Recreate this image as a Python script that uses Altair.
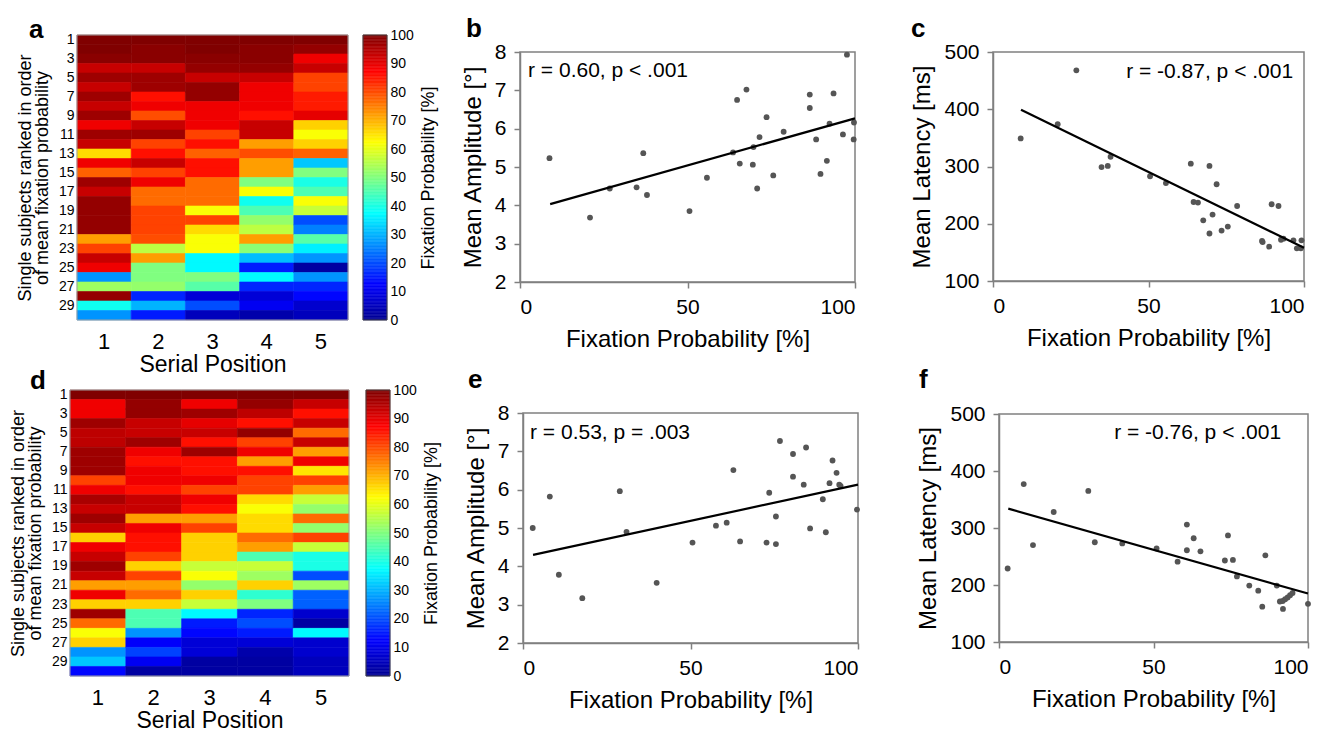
import altair as alt
import numpy as np
import pandas as pd

FONT = "Liberation Sans"

# ---------------- Heatmap a (rows = subjects 1..30, columns = serial position 1..5)
A_SP1 = [100, 100, 99, 93, 97, 93, 97, 93, 97, 89, 97, 93, 66, 89, 78, 97, 93, 98, 98, 98, 98, 72, 81, 93, 89, 27, 53, 98, 39, 27]
A_SP2 = [100, 99, 99, 93, 97, 97, 86, 89, 80, 93, 97, 81, 86, 93, 81, 89, 77, 77, 81, 81, 81, 80, 56, 72, 50, 50, 52, 16, 30, 15]
A_SP3 = [100, 100, 99, 98, 93, 98, 98, 89, 89, 89, 81, 86, 78, 86, 86, 77, 77, 77, 62, 81, 66, 62, 62, 37, 37, 50, 46, 8, 20, 5]
A_SP4 = [100, 99, 99, 98, 93, 89, 89, 89, 86, 93, 93, 72, 80, 72, 72, 50, 62, 39, 45, 52, 56, 72, 51, 31, 15, 37, 16, 8, 11, 3]
A_SP5 = [100, 98, 89, 93, 81, 81, 85, 85, 90, 67, 62, 67, 78, 32, 50, 40, 45, 62, 57, 20, 25, 46, 36, 27, 2, 27, 16, 13, 7, 5]

# ---------------- Heatmap d
D_SP1 = [100, 89, 89, 97, 94, 94, 97, 97, 97, 81, 89, 96, 93, 97, 93, 67, 89, 93, 97, 93, 72, 89, 67, 97, 77, 62, 67, 27, 32, 13]
D_SP2 = [100, 98, 98, 93, 93, 97, 89, 86, 89, 89, 86, 93, 93, 72, 89, 86, 86, 81, 67, 81, 72, 77, 67, 45, 45, 27, 12, 19, 11, 2]
D_SP3 = [100, 89, 97, 90, 93, 86, 97, 86, 86, 89, 81, 89, 86, 72, 81, 67, 67, 67, 57, 62, 52, 67, 57, 37, 15, 13, 8, 8, 2, 2]
D_SP4 = [100, 98, 94, 86, 98, 81, 89, 72, 86, 81, 81, 66, 62, 66, 66, 77, 72, 45, 57, 53, 67, 42, 50, 16, 20, 15, 8, 3, 2, 2]
D_SP5 = [100, 93, 86, 93, 77, 93, 72, 89, 65, 81, 72, 57, 52, 77, 52, 81, 57, 40, 40, 20, 53, 22, 22, 7, 2, 37, 7, 7, 5, 5]

# ---------------- Scatter b (amplitude vs fixation probability)
B_X = [8.8, 20.9, 26.8, 34.8, 36.8, 37.9, 50.6, 55.8, 63.6, 64.8, 65.6, 67.6, 69.5, 69.7, 70.8, 71.5, 73.6, 75.6, 78.7, 86.5, 86.5, 88.4, 89.7, 91.6, 92.4, 93.6, 96.4, 97.6, 99.7, 99.6]
B_Y = [5.23, 3.68, 4.44, 4.47, 5.36, 4.27, 3.85, 4.72, 5.38, 6.75, 5.09, 7.02, 5.06, 5.52, 4.44, 5.78, 6.30, 4.78, 5.92, 6.89, 6.54, 5.72, 4.82, 5.16, 6.13, 6.92, 5.85, 7.93, 6.16, 5.72]
B_FIT_X = [9, 100]
B_FIT_Y = [4.03, 6.27]

# ---------------- Scatter c (latency vs fixation probability)
C_X = [8.9, 20.8, 26.8, 34.9, 36.9, 37.8, 50.5, 55.6, 63.6, 64.5, 65.9, 67.6, 69.6, 69.6, 70.6, 71.9, 73.5, 75.5, 78.5, 86.5, 86.7, 88.8, 89.6, 91.8, 92.6, 93.4, 96.6, 97.7, 99.2, 99.0]
C_Y = [349, 374, 468, 299, 301, 317, 283, 271, 305, 238, 237, 206, 301, 183, 216, 269, 188, 195, 231, 170, 168, 160, 234, 231, 172, 174, 171, 157, 171, 157]
C_FIT_X = [9, 100]
C_FIT_Y = [399, 158]

# ---------------- Scatter e
E_X = [2.9, 8.0, 10.7, 17.7, 28.9, 30.9, 39.9, 50.6, 57.6, 60.8, 62.8, 64.8, 72.7, 73.5, 75.5, 75.5, 76.7, 80.6, 80.6, 83.8, 84.5, 85.7, 89.5, 90.4, 91.5, 92.4, 93.6, 94.4, 94.8, 99.7]
E_Y = [5.00, 5.82, 3.78, 3.17, 5.96, 4.90, 3.57, 4.62, 5.06, 5.14, 6.51, 4.65, 4.62, 5.92, 5.30, 4.58, 7.27, 6.93, 6.34, 6.13, 7.10, 4.99, 5.75, 4.89, 6.17, 6.76, 6.44, 6.13, 6.10, 5.48]
E_FIT_X = [3, 100]
E_FIT_Y = [4.30, 6.13]

# ---------------- Scatter f
F_X = [2.8, 8.0, 11.0, 17.7, 28.9, 31.0, 39.9, 51.0, 57.8, 60.8, 60.8, 63.0, 65.2, 73.1, 74.1, 75.7, 77.0, 81.0, 83.9, 85.2, 86.2, 89.9, 90.9, 91.9, 91.8, 92.6, 93.4, 94.2, 95.0, 100.0]
F_Y = [229, 377, 270, 328, 365, 275, 273, 264, 241, 306, 261, 282, 259, 243, 287, 244, 215, 199, 190, 162, 252, 199, 171, 158, 172, 175, 178, 182, 186, 167]
F_FIT_X = [3, 100]
F_FIT_Y = [334, 185]

SUBJECT_TICKS = list(range(1, 30, 2))
POSITIONS = [1, 2, 3, 4, 5]
CBAR_TICKS = list(range(0, 101, 10))
AMP_TICKS = [2, 3, 4, 5, 6, 7, 8]
LAT_TICKS = [100, 200, 300, 400, 500]
PROB_TICKS = [0, 50, 100]

JET_DOMAIN = [0, 12.5, 37.5, 62.5, 87.5, 100]
JET_RANGE = ["#000090", "#0000ff", "#00ffff", "#ffff00", "#ff0000", "#800000"]


def jet_scale():
    return alt.Scale(domain=JET_DOMAIN, range=JET_RANGE, interpolate="rgb", clamp=True)


def panel_title(label, dx, offset):
    return alt.TitleParams(label, anchor="start", frame="group", dx=dx, offset=offset,
                           baseline="alphabetic", fontSize=26, fontWeight="bold",
                           font=FONT, color="black")


def spacer(px, height):
    # invisible element that only widens the panel's layout bounds
    return alt.Chart(pd.DataFrame({"k": [0]})).mark_rule(strokeOpacity=0, strokeWidth=1).encode(
        x=alt.value(px), y=alt.value(height / 2), y2=alt.value(height / 2 + 1))


def heat_panel(cols, label, width, height, cb_gap, title_dx, title_offset, inset=0):
    recs = []
    for j, col in enumerate(cols):
        for i, v in enumerate(col):
            recs.append({"subject": i + 1, "pos": POSITIONS[j], "prob": v})
    df = pd.DataFrame(recs)
    view_w = width + inset
    heat = alt.Chart(df).mark_rect(strokeWidth=0.6).encode(
        x=alt.X("pos:O", scale=alt.Scale(paddingInner=0, paddingOuter=0, range=[inset, view_w]),
                axis=alt.Axis(title="Serial Position", labelAngle=0, labelFontSize=22,
                              titleFontSize=23, ticks=False, domain=False,
                              labelPadding=11, titlePadding=1, titleFontWeight="normal")),
        y=alt.Y("subject:O", scale=alt.Scale(paddingInner=0, paddingOuter=0),
                axis=alt.Axis(values=SUBJECT_TICKS, offset=-inset,
                              title=["Single subjects ranked in order", "of mean fixation probability"],
                              labelFontSize=14, titleFontSize=18, titleLineHeight=17,
                              ticks=False, domain=False, labelPadding=3, titlePadding=7,
                              titleFontWeight="normal")),
        color=alt.Color("prob:Q", scale=jet_scale(), legend=None),
        stroke=alt.Stroke("prob:Q", scale=jet_scale(), legend=None),
    )
    steps = pd.DataFrame({"lo": np.arange(0, 100, 0.5)})
    steps["hi"] = steps["lo"] + 0.5
    steps["mid"] = steps["lo"] + 0.25
    cb_l, cb_r = view_w + cb_gap, view_w + cb_gap + 24
    cbar = alt.Chart(steps).mark_rect(strokeWidth=0.5).encode(
        x=alt.value(cb_l), x2=alt.value(cb_r),
        y=alt.Y("lo:Q", scale=alt.Scale(domain=[0, 100], nice=False),
                axis=alt.Axis(orient="right", offset=cb_gap + 24, values=CBAR_TICKS,
                              title="Fixation Probability [%]", titleAngle=270,
                              titleBaseline="top", titleFontWeight="normal",
                              labelFontSize=14, titleFontSize=18, ticks=False,
                              domain=False, labelPadding=3, titlePadding=6, grid=False)),
        y2="hi:Q",
        color=alt.Color("mid:Q", scale=jet_scale(), legend=None),
        stroke=alt.Stroke("mid:Q", scale=jet_scale(), legend=None),
    )
    frames = pd.DataFrame({"k": [0]})
    cbar_frame = alt.Chart(frames).mark_rect(fill=None, stroke="#444444", strokeWidth=1).encode(
        x=alt.value(cb_l), x2=alt.value(cb_r),
        y=alt.value(0), y2=alt.value(height),
    )
    heat_frame = alt.Chart(frames).mark_rect(fill=None, stroke="#a0a0a0", strokeWidth=1).encode(
        x=alt.value(inset), x2=alt.value(view_w),
        y=alt.value(0), y2=alt.value(height),
    )
    return alt.layer(heat, heat_frame, cbar, cbar_frame).resolve_scale(y="independent").properties(
        width=view_w, height=height, title=panel_title(label, title_dx, title_offset),
    )


def scatter_panel(xs, ys, fx, fy, ann, ann_x, ann_y, ann_align, label, ydom, yvals, ytitle,
                  width, view_h, top_gap, title_dx, title_offset, right_spacer=None):
    xscale = alt.Scale(domain=[0, 100], nice=False)
    yscale = alt.Scale(domain=ydom, nice=False, range=[view_h, top_gap])
    xaxis = alt.Axis(values=PROB_TICKS, title="Fixation Probability [%]", grid=False,
                     labelFontSize=21, titleFontSize=24, tickSize=6, labelPadding=8,
                     titlePadding=10, domainColor="#808080", domainWidth=1.5,
                     tickColor="#808080", tickWidth=1.5, titleFontWeight="normal")
    yaxis = alt.Axis(values=yvals, title=ytitle, grid=False, labelFontSize=21,
                     titleFontSize=24, tickSize=6, labelPadding=8, titlePadding=9,
                     domainColor="#808080", domainWidth=1.5, tickColor="#808080",
                     tickWidth=1.5, titleFontWeight="normal")
    X = alt.X("x:Q", scale=xscale, axis=xaxis)
    Y = alt.Y("y:Q", scale=yscale, axis=yaxis)
    frame_df = pd.DataFrame({"x": [0], "x2": [100], "y": [ydom[0]], "y2": [ydom[1]]})
    frame = alt.Chart(frame_df).mark_rect(fill=None, stroke="#808080", strokeWidth=1.5).encode(
        x=X, x2="x2:Q", y=Y, y2="y2:Q")
    pts = alt.Chart(pd.DataFrame({"x": xs, "y": ys})).mark_circle(
        size=34, color="#555555", opacity=1).encode(x=X, y=Y)
    line = alt.Chart(pd.DataFrame({"x": fx, "y": fy})).mark_line(
        color="black", strokeWidth=2.2).encode(x=X, y=Y)
    txt = alt.Chart(pd.DataFrame({"x": [ann_x], "y": [ann_y], "t": [ann]})).mark_text(
        align=ann_align, baseline="alphabetic", fontSize=21, font=FONT, color="black"
    ).encode(x=X, y=Y, text="t:N")
    layers = [frame, pts, line, txt]
    if right_spacer is not None:
        layers.append(spacer(right_spacer, view_h))
    return alt.layer(*layers).properties(
        width=width, height=view_h, title=panel_title(label, title_dx, title_offset),
    )


heat_a = heat_panel([A_SP1, A_SP2, A_SP3, A_SP4, A_SP5], "a", 271, 285, 15, -41, -36, inset=7)
heat_d = heat_panel([D_SP1, D_SP2, D_SP3, D_SP4, D_SP5], "d", 279, 286, 17, -40, -32)

sc_b = scatter_panel(B_X, B_Y, B_FIT_X, B_FIT_Y, "r = 0.60, p < .001", 2.4, 7.35, "left", "b",
                     [2, 8], AMP_TICKS, "Mean Amplitude [°]", 335, 247, 17, -54, -28,
                     right_spacer=335 + 32)
sc_c = scatter_panel(C_X, C_Y, C_FIT_X, C_FIT_Y, "r = -0.87, p < .001", 96.5, 454.6, "right", "c",
                     [100, 500], LAT_TICKS, "Mean Latency [ms]", 311, 246, 17, -82, -28)
sc_e = scatter_panel(E_X, E_Y, E_FIT_X, E_FIT_Y, "r = 0.53, p = .003", 2.1, 7.32, "left", "e",
                     [2, 8], AMP_TICKS, "Mean Amplitude [°]", 335, 253, 23, -55, -24,
                     right_spacer=335 + 35)
sc_f = scatter_panel(F_X, F_Y, F_FIT_X, F_FIT_Y, "r = -0.76, p < .001", 91.3, 456, "right", "f",
                     [100, 500], LAT_TICKS, "Mean Latency [ms]", 309, 252, 24, -80, -24)

row1 = alt.hconcat(heat_a, sc_b, sc_c, spacing=23)
row2 = alt.hconcat(heat_d, sc_e, sc_f, spacing=23)

chart = alt.vconcat(row1, row2, spacing=-9).properties(
    padding={"left": 1, "top": 8, "right": 2, "bottom": 2},
    background="white",
).configure_view(
    strokeWidth=0
).configure_axis(
    labelFont=FONT, titleFont=FONT, titleFontWeight="normal",
    labelColor="black", titleColor="black"
)

chart.save("out.html", embed_options={"renderer": "svg", "actions": False})
